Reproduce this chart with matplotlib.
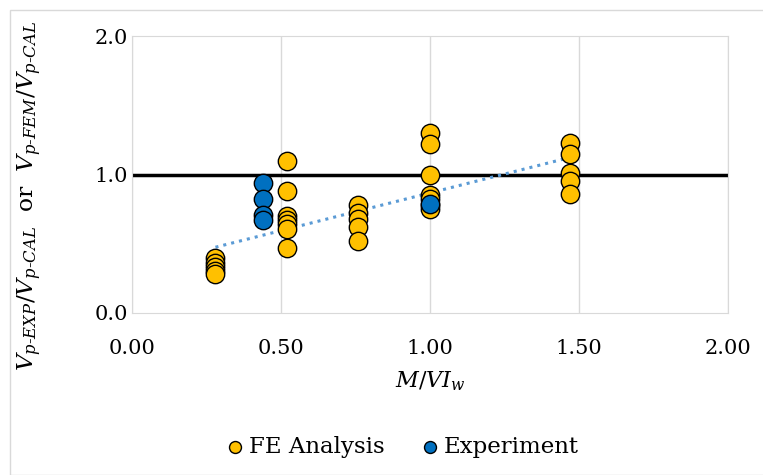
import numpy as np
import matplotlib.pyplot as plt
from matplotlib.patches import Rectangle

# FE analysis results (M/VIw, ratio)
fe_x = [0.28, 0.28, 0.28, 0.28, 0.28,
        0.52, 0.52, 0.52, 0.52, 0.52, 0.52, 0.52,
        0.76, 0.76, 0.76, 0.76, 0.76,
        1.00, 1.00, 1.00, 1.00, 1.00, 1.00, 1.00,
        1.47, 1.47, 1.47, 1.47, 1.47]
fe_y = [0.40, 0.36, 0.33, 0.30, 0.28,
        1.10, 0.88, 0.70, 0.67, 0.64, 0.61, 0.47,
        0.78, 0.72, 0.68, 0.62, 0.52,
        1.30, 1.22, 1.00, 0.85, 0.82, 0.78, 0.75,
        1.23, 1.15, 1.01, 0.95, 0.86]

# experiment results
exp_x = [0.44, 0.44, 0.44, 0.44, 1.00]
exp_y = [0.94, 0.82, 0.71, 0.67, 0.79]

plt.rcParams['font.family'] = ['DejaVu Serif']
plt.rcParams['mathtext.fontset'] = 'dejavuserif'

fig = plt.figure(figsize=(7.63, 4.75), dpi=100)
ax = fig.add_axes([132/763, 1 - 313/475, (728-132)/763, (313-36)/475])

fig.patches.append(Rectangle((10/763, 0), 1, 1 - 10/475, transform=fig.transFigure,
                             fill=False, edgecolor='#d9d9d9', lw=1))

ax.set_xlim(0, 2)
ax.set_ylim(0, 2)
ax.set_xticks(np.arange(0, 2.01, 0.5))
ax.set_yticks([0, 1, 2])
ax.xaxis.set_major_formatter(plt.FormatStrFormatter('%.2f'))
ax.yaxis.set_major_formatter(plt.FormatStrFormatter('%.1f'))
ax.tick_params(length=0, labelsize=15)
ax.tick_params(axis='x', pad=19)
ax.tick_params(axis='y', pad=3)
ax.grid(axis='x', color='#d9d9d9', lw=1)
ax.set_axisbelow(True)
for s in ax.spines.values():
    s.set_color('#d9d9d9')

ax.axhline(1.0, color='black', lw=2.5, zorder=2)

# linear trendline of the FE results
fx = np.array(fe_x)
k, c = np.polyfit(fx, np.array(fe_y), 1)
tx = np.array([fx.min(), fx.max()])
ax.plot(tx, k * tx + c, ':', color='#5b9bd5', lw=2.2, zorder=3)

ax.scatter(fe_x, fe_y, s=175, color='#ffc000', edgecolor='black', lw=1, zorder=4,
           label='FE Analysis')
ax.scatter(exp_x, exp_y, s=175, color='#0070c0', edgecolor='black', lw=1, zorder=4,
           label='Experiment')

ax.set_xlabel(r'$M/VI_w$', fontsize=16, labelpad=8)
ax.set_ylabel(r'$V_{p\text{-}EXP}/V_{p\text{-}CAL}$  or  '
              r'$V_{p\text{-}FEM}/V_{p\text{-}CAL}$', fontsize=16.8)
ax.yaxis.set_label_coords((44 - 132) / 596, (313 - 196) / 277)

fig.legend(loc='center', bbox_to_anchor=(400/763, 1 - 447/475), ncol=2, frameon=False,
           fontsize=16.5, handletextpad=0.0, handlelength=1.2, columnspacing=1.4,
           markerscale=0.65)

plt.savefig('out.png', dpi=100)
